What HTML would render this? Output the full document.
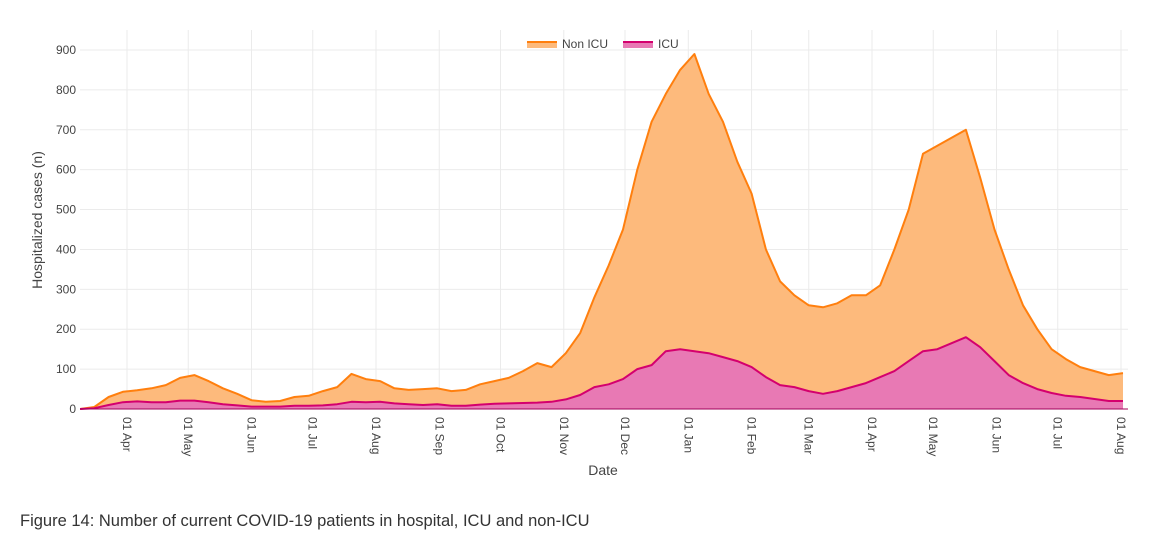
<!DOCTYPE html>
<html><head><meta charset="utf-8"><style>
body{margin:0;background:#fff;font-family:"Liberation Sans",sans-serif;}
#wrap{position:relative;width:1154px;height:555px;overflow:hidden;}
.cap{position:absolute;left:20px;top:512px;font-size:16.5px;color:#333;}
</style></head><body>
<div id="wrap">
<svg id="chart" width="1154" height="500"></svg>
<div class="cap">Figure 14: Number of current COVID-19 patients in hospital, ICU and non-ICU</div>
</div>
<script>
const startDate = "2020-03-09";
const stepDays = 7;
const totalHosp = [0,5,30,43,47,52,60,78,85,70,52,38,22,18,20,30,33,45,55,88,75,70,52,48,50,52,45,48,62,70,78,95,115,105,140,190,280,360,450,600,720,790,850,890,790,720,620,540,400,320,285,260,255,265,285,285,310,400,500,640,660,680,700,580,450,350,260,200,150,125,105,95,85,90];
const icu = [0,2,10,17,19,17,17,21,21,17,12,9,6,6,6,8,8,9,12,18,17,18,14,12,10,12,8,8,11,13,14,15,16,18,24,35,55,62,75,100,110,145,150,145,140,130,120,105,80,60,55,45,38,45,55,65,80,95,120,145,150,165,180,155,120,85,65,50,40,33,30,25,20,20];
const yTicks = [0,100,200,300,400,500,600,700,800,900];
const xTickLabels = ["01 Apr","01 May","01 Jun","01 Jul","01 Aug","01 Sep","01 Oct","01 Nov","01 Dec","01 Jan","01 Feb","01 Mar","01 Apr","01 May","01 Jun","01 Jul","01 Aug"];
const xTickDates = ["2020-04-01","2020-05-01","2020-06-01","2020-07-01","2020-08-01","2020-09-01","2020-10-01","2020-11-01","2020-12-01","2021-01-01","2021-02-01","2021-03-01","2021-04-01","2021-05-01","2021-06-01","2021-07-01","2021-08-01"];

const NS="http://www.w3.org/2000/svg";
const svg=document.getElementById('chart');
const X0=80,X1=1128,Y0=409,Y900=50;
const t0=Date.parse(startDate);
const dayPx=(1121-127)/487;
const apr1=Date.parse("2020-04-01");
function xDate(d){return 127+(Date.parse(d)-apr1)/86400000*dayPx;}
function xIdx(i){return 127+((t0-apr1)/86400000+i*stepDays)*dayPx;}
function y(v){return Y0+(Y900-Y0)*v/900;}
function mk(tag,attrs){const e=document.createElementNS(NS,tag);for(const k in attrs)e.setAttribute(k,attrs[k]);svg.appendChild(e);return e;}

yTicks.forEach(v=>{
  const l=mk('line',{x1:X0,x2:X1,y1:y(v),y2:y(v),stroke:'#ebebeb','stroke-width':1});
  
  
  const t=mk('text',{x:76,y:y(v)+4,'text-anchor':'end','font-size':12,fill:'#444'});
  t.textContent=v;
  
  
});
xTickDates.forEach((d,i)=>{
  const xx=xDate(d);
  const l=mk('line',{x1:xx,x2:xx,y1:30,y2:Y0,stroke:'#ebebeb','stroke-width':1});
  
  
  const t=mk('text',{x:0,y:0,'font-size':12,fill:'#444',transform:`translate(${xx-4},${Y0+8}) rotate(90)`});
  t.textContent=xTickLabels[i];
  
  
});

function linePts(arr){return arr.map((v,i)=>`${xIdx(i).toFixed(1)},${y(v).toFixed(1)}`).join(' ');}
const n=totalHosp.length;
const topPts=linePts(totalHosp), icuPts=linePts(icu);
const icuRev=icu.map((v,i)=>`${xIdx(i).toFixed(1)},${y(v).toFixed(1)}`).reverse().join(' ');
const a1=mk('polygon',{points:topPts+' '+icuRev,fill:'#fdba7c'});


const a2=mk('polygon',{points:icuPts+` ${xIdx(n-1)},${Y0} ${xIdx(0)},${Y0}`,fill:'#e879b4'});


const l1=mk('polyline',{points:topPts,fill:'none',stroke:'#ff7f0e','stroke-width':2,'stroke-linejoin':'round'});


const l2=mk('polyline',{points:icuPts,fill:'none',stroke:'#d4006e','stroke-width':2,'stroke-linejoin':'round'});


const ax=mk('line',{x1:X0,x2:X1,y1:Y0,y2:Y0,stroke:'#a0005a','stroke-width':1});



const yt=mk('text',{x:0,y:0,'font-size':14,fill:'#444','text-anchor':'middle',transform:'translate(42,220) rotate(-90)'});
yt.textContent='Hospitalized cases (n)';


const xt=mk('text',{x:603,y:475,'font-size':14,fill:'#444','text-anchor':'middle'});
xt.textContent='Date';



const g1=mk('rect',{x:527,y:41,width:30,height:7,fill:'#fdba7c'});


mk('line',{x1:527,x2:557,y1:42,y2:42,stroke:'#ff7f0e','stroke-width':2});
const t1=mk('text',{x:562,y:48,'font-size':12,fill:'#444'});t1.textContent='Non ICU';


const g2=mk('rect',{x:623,y:41,width:30,height:7,fill:'#e879b4'});


mk('line',{x1:623,x2:653,y1:42,y2:42,stroke:'#d4006e','stroke-width':2});
const t2=mk('text',{x:658,y:48,'font-size':12,fill:'#444'});t2.textContent='ICU';


</script>
</body></html>
